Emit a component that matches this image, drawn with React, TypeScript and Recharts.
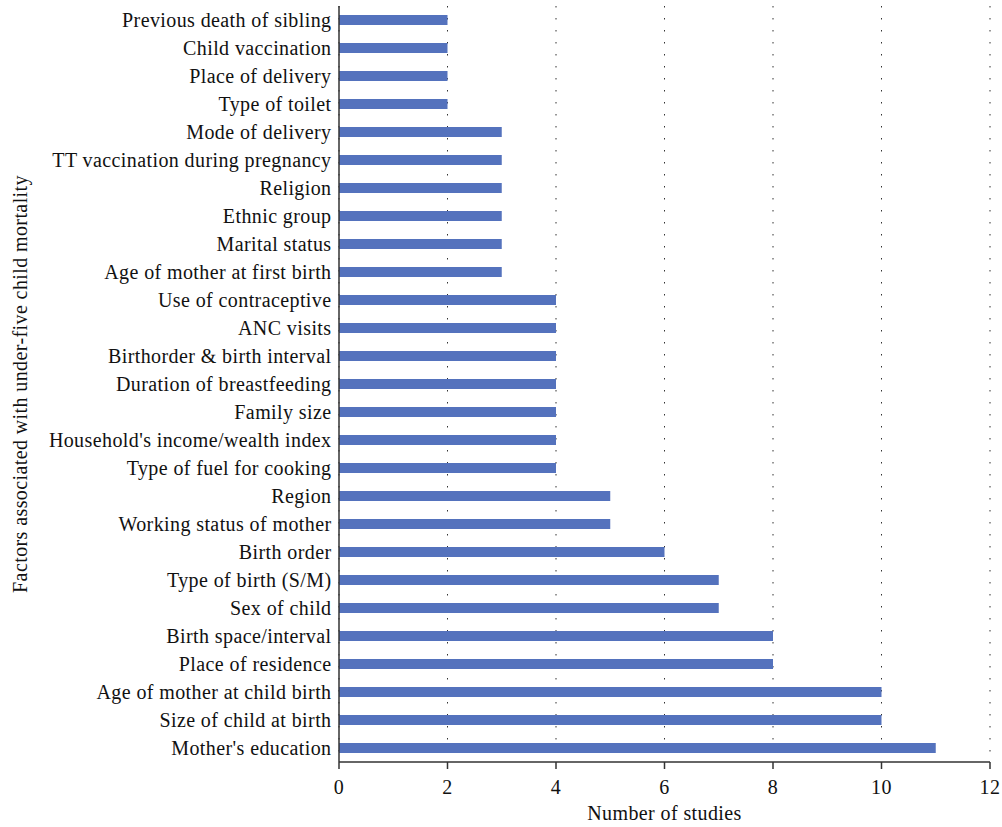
import React from "react";
import { BarChart, Bar, XAxis, YAxis, CartesianGrid, Label } from "recharts";

const factors = [
  "Previous death of sibling",
  "Child vaccination",
  "Place of delivery",
  "Type of toilet",
  "Mode of delivery",
  "TT vaccination during pregnancy",
  "Religion",
  "Ethnic group",
  "Marital status",
  "Age of mother at first birth",
  "Use of contraceptive",
  "ANC visits",
  "Birthorder & birth interval",
  "Duration of breastfeeding",
  "Family size",
  "Household's income/wealth index",
  "Type of fuel for cooking",
  "Region",
  "Working status of mother",
  "Birth order",
  "Type of birth (S/M)",
  "Sex of child",
  "Birth space/interval",
  "Place of residence",
  "Age of mother at child birth",
  "Size of child at birth",
  "Mother's education",
];

const studies = [2, 2, 2, 2, 3, 3, 3, 3, 3, 3, 4, 4, 4, 4, 4, 4, 4, 5, 5, 6, 7, 7, 8, 8, 10, 10, 11];

const xTicks = [0, 2, 4, 6, 8, 10, 12];

const data = factors.map((f, i) => ({ factor: f, value: studies[i] }));

const FONT = "'Liberation Serif', 'DejaVu Serif', serif";
const textStyle = { fill: "#111", fontSize: 20, fontFamily: FONT, letterSpacing: 0.4 };

export default function App() {
  return (
    <div style={{ position: "absolute", left: 0, top: 0, width: 1002, height: 827, background: "#fff" }}>
      <BarChart
        width={1002}
        height={827}
        data={data}
        layout="vertical"
        margin={{ top: 6, right: 12, bottom: 0, left: 0 }}
        barCategoryGap={0}
      >
        <CartesianGrid
          horizontal={false}
          vertical={true}
          stroke="#333"
          strokeDasharray="1.5 10.5"
          strokeWidth={1}
        />
        <XAxis
          type="number"
          domain={[0, 12]}
          ticks={xTicks}
          height={65}
          tickSize={7}
          tickLine={{ stroke: "#333", strokeWidth: 1.5 }}
          axisLine={{ stroke: "#333", strokeWidth: 1.5 }}
          tick={textStyle}
          tickMargin={11}
        >
          <Label value="Number of studies" position="insideBottom" offset={7} style={textStyle} />
        </XAxis>
        <YAxis
          type="category"
          dataKey="factor"
          width={339}
          tickLine={false}
          axisLine={{ stroke: "#333", strokeWidth: 1.5 }}
          tick={textStyle}
          tickMargin={1.5}
          interval={0}
        >
          <Label
            content={(props: any) => {
              const vb = props.viewBox || {};
              const cy = vb.y + vb.height / 2;
              const cx = 20;
              return (
                <text
                  x={cx}
                  y={cy}
                  transform={`rotate(-90 ${cx} ${cy})`}
                  textAnchor="middle"
                  dominantBaseline="central"
                  style={textStyle}
                >
                  Factors associated with under-five child mortality
                </text>
              );
            }}
          />
        </YAxis>
        <Bar dataKey="value" fill="#5472BD" barSize={10} isAnimationActive={false} />
      </BarChart>
    </div>
  );
}
